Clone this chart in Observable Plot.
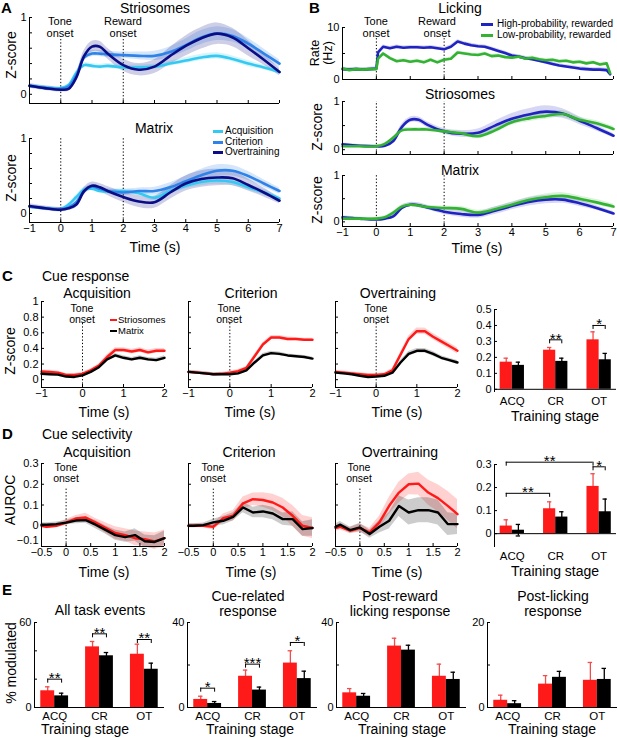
<!DOCTYPE html>
<html><head><meta charset="utf-8">
<script src="https://cdn.jsdelivr.net/npm/d3@7"></script>
<script src="https://cdn.jsdelivr.net/npm/@observablehq/plot@0.6"></script>
<style>
body{margin:0;background:#fff;}
#fig{position:relative;width:617px;height:738px;overflow:hidden;font-family:"Liberation Sans",Arial,Helvetica,sans-serif;color:#000;background:#fff;}
.t{position:absolute;white-space:nowrap;line-height:1.05;text-align:center;}
.sw{position:absolute;}
</style></head><body><div id="fig"></div>
<script>
// ---------------- DATA ----------------
const tAB = [-1,-0.5,0,0.25,0.5,0.75,1,1.25,1.5,2,2.5,3,3.5,4,4.5,5,5.5,6,6.5,7];
// Panel A – Striosomes
const strAcq  = [0.11,0.09,0.08,0.12,0.28,0.38,0.37,0.36,0.37,0.35,0.35,0.36,0.40,0.44,0.48,0.50,0.46,0.40,0.35,0.29];
const strAcqSem = [0.02,0.02,0.02,0.02,0.03,0.03,0.03,0.03,0.03,0.03,0.03,0.03,0.03,0.04,0.04,0.04,0.04,0.04,0.03,0.03];
const strCrit = [0.11,0.08,0.07,0.10,0.25,0.48,0.53,0.53,0.52,0.51,0.50,0.50,0.55,0.64,0.74,0.79,0.76,0.66,0.53,0.40];
const strCritSem = [0.02,0.02,0.02,0.02,0.03,0.04,0.04,0.04,0.04,0.04,0.05,0.06,0.07,0.08,0.09,0.09,0.08,0.07,0.06,0.05];
const strOT   = [0.11,0.08,0.06,0.07,0.22,0.50,0.62,0.62,0.53,0.38,0.32,0.36,0.50,0.63,0.73,0.79,0.74,0.60,0.45,0.29];
const strOTSem = [0.03,0.03,0.03,0.03,0.05,0.07,0.07,0.07,0.07,0.08,0.08,0.09,0.11,0.13,0.14,0.14,0.12,0.10,0.07,0.05];
// Panel A – Matrix
const matAcq  = [0.09,0.07,0.06,0.12,0.22,0.32,0.33,0.30,0.29,0.30,0.27,0.21,0.30,0.37,0.42,0.44,0.42,0.35,0.28,0.20];
const matAcqSem = [0.02,0.02,0.02,0.02,0.03,0.03,0.03,0.03,0.03,0.03,0.03,0.04,0.04,0.04,0.05,0.05,0.05,0.04,0.04,0.03];
const matCrit = [0.09,0.07,0.06,0.08,0.15,0.30,0.36,0.33,0.30,0.28,0.30,0.30,0.35,0.43,0.51,0.57,0.57,0.50,0.40,0.30];
const matCritSem = [0.02,0.02,0.02,0.02,0.03,0.03,0.03,0.03,0.03,0.04,0.04,0.05,0.06,0.07,0.08,0.08,0.07,0.06,0.05,0.04];
const matOT   = [0.10,0.07,0.05,0.07,0.12,0.30,0.37,0.35,0.30,0.22,0.16,0.15,0.28,0.40,0.46,0.48,0.47,0.38,0.28,0.17];
const matOTSem = [0.03,0.03,0.03,0.03,0.04,0.05,0.05,0.05,0.06,0.07,0.08,0.08,0.09,0.10,0.11,0.11,0.10,0.08,0.06,0.04];
// Panel B – Licking
const tLick = [-1,-0.8,-0.6,-0.4,-0.2,0,0.05,0.2,0.4,0.6,0.8,1,1.2,1.4,1.6,1.8,2,2.2,2.4,2.6,2.8,3,3.2,3.4,3.6,3.8,4,4.2,4.4,4.6,4.8,5,5.2,5.4,5.6,5.8,6,6.2,6.4,6.6,6.8,6.9];
const lickHigh = [2.0,1.9,2.0,1.9,2.0,2.1,5.2,6.3,6.0,6.3,6.1,6.2,6.2,6.1,6.2,6.0,5.8,6.3,7.3,6.9,6.6,6.4,6.3,5.9,5.5,5.1,4.6,4.4,4.1,3.9,3.6,3.3,3.0,2.7,2.5,2.3,2.1,2.0,1.9,1.9,1.8,1.0];
const lickLow  = [2.1,1.8,2.0,1.9,2.0,2.0,4.0,5.0,4.1,3.5,3.7,3.4,3.6,3.3,3.8,3.3,3.8,4.0,5.2,5.0,4.8,4.7,5.0,4.5,4.6,4.3,4.2,4.4,4.0,4.2,3.9,3.7,3.8,3.5,3.6,3.3,3.4,3.1,3.3,2.9,3.1,1.2];
const lickHighSem = 0.35, lickLowSem = 0.3;
// Panel B – Striosomes / Matrix
const bStrHigh = [0.11,0.08,0.07,0.08,0.18,0.47,0.62,0.62,0.52,0.38,0.33,0.35,0.50,0.64,0.73,0.79,0.75,0.60,0.45,0.29];
const bStrHighSem = [0.03,0.03,0.03,0.03,0.04,0.06,0.06,0.06,0.06,0.06,0.07,0.08,0.09,0.11,0.12,0.12,0.10,0.08,0.06,0.04];
const bStrLow  = [0.07,0.07,0.07,0.12,0.25,0.40,0.42,0.42,0.42,0.38,0.34,0.28,0.40,0.57,0.65,0.70,0.74,0.62,0.55,0.43];
const bStrLowSem = [0.03,0.03,0.03,0.03,0.03,0.04,0.04,0.04,0.04,0.04,0.04,0.05,0.06,0.06,0.07,0.07,0.07,0.06,0.05,0.05];
const bMatHigh = [0.10,0.07,0.05,0.07,0.12,0.30,0.37,0.36,0.31,0.22,0.17,0.15,0.24,0.34,0.43,0.48,0.48,0.40,0.30,0.18];
const bMatHighSem = [0.03,0.03,0.03,0.03,0.04,0.05,0.05,0.05,0.05,0.06,0.07,0.07,0.08,0.08,0.09,0.09,0.08,0.07,0.05,0.04];
const bMatLow  = [0.07,0.07,0.07,0.10,0.20,0.33,0.37,0.35,0.32,0.30,0.28,0.20,0.27,0.37,0.47,0.53,0.56,0.50,0.42,0.33];
const bMatLowSem = [0.03,0.03,0.03,0.03,0.03,0.04,0.04,0.04,0.04,0.04,0.05,0.05,0.05,0.06,0.06,0.07,0.07,0.06,0.06,0.05];
// Panel C – cue response
const tC = [-1,-0.8,-0.6,-0.4,-0.2,0,0.2,0.4,0.6,0.8,1,1.2,1.4,1.6,1.8,2];
const cAcqStr  = [0.105,0.10,0.09,0.06,0.06,0.075,0.12,0.18,0.29,0.38,0.38,0.36,0.38,0.35,0.37,0.37];
const cAcqStrSem = [0.02,0.02,0.02,0.02,0.02,0.02,0.02,0.02,0.03,0.03,0.03,0.03,0.03,0.03,0.03,0.03];
const cAcqMat  = [0.075,0.07,0.065,0.04,0.035,0.055,0.10,0.16,0.26,0.31,0.28,0.26,0.28,0.26,0.25,0.28];
const cAcqMatSem = [0.02,0.02,0.02,0.02,0.02,0.02,0.02,0.02,0.025,0.025,0.025,0.025,0.025,0.025,0.025,0.025];
const cCritStr = [0.10,0.09,0.08,0.07,0.075,0.09,0.11,0.15,0.30,0.45,0.54,0.54,0.52,0.52,0.51,0.51];
const cCritStrSem = [0.02,0.02,0.02,0.02,0.02,0.02,0.02,0.02,0.025,0.025,0.025,0.025,0.025,0.02,0.02,0.02];
const cCritMat = [0.10,0.09,0.08,0.07,0.07,0.07,0.08,0.12,0.22,0.31,0.34,0.33,0.31,0.30,0.29,0.27];
const cCritMatSem = [0.02,0.02,0.02,0.02,0.02,0.02,0.02,0.02,0.02,0.025,0.025,0.025,0.02,0.02,0.02,0.02];
const cOTStr   = [0.10,0.09,0.08,0.07,0.06,0.06,0.07,0.12,0.32,0.52,0.62,0.62,0.55,0.49,0.43,0.37];
const cOTStrSem = [0.02,0.02,0.02,0.02,0.02,0.02,0.02,0.025,0.03,0.04,0.04,0.04,0.04,0.04,0.04,0.04];
const cOTMat   = [0.09,0.08,0.07,0.05,0.035,0.04,0.05,0.09,0.22,0.33,0.37,0.37,0.33,0.28,0.25,0.22];
const cOTMatSem = [0.02,0.02,0.02,0.02,0.02,0.02,0.02,0.02,0.025,0.03,0.03,0.03,0.03,0.025,0.025,0.025];
// Panel D – cue selectivity
const tD = [-0.5,-0.4,-0.2,0,0.2,0.4,0.6,0.8,1,1.2,1.4,1.6,1.8,2];
const dAcqStr  = [0.0,-0.005,0.0,0.015,0.035,0.04,0.015,-0.01,-0.035,-0.045,-0.06,-0.065,-0.075,-0.06];
const dAcqStrSem = [0.01,0.01,0.01,0.015,0.015,0.02,0.02,0.025,0.03,0.03,0.035,0.035,0.04,0.04];
const dAcqMat  = [0.005,0.005,0.008,0.015,0.025,0.027,0.005,-0.02,-0.045,-0.055,-0.045,-0.075,-0.078,-0.06];
const dAcqMatSem = [0.01,0.01,0.01,0.01,0.015,0.015,0.02,0.02,0.025,0.025,0.03,0.03,0.03,0.035];
const dCritStr = [0.0,0.0,0.0,-0.005,0.037,0.048,0.108,0.128,0.124,0.112,0.088,0.048,0.0,-0.011];
const dCritStrSem = [0.01,0.01,0.01,0.015,0.02,0.025,0.03,0.03,0.035,0.04,0.045,0.05,0.05,0.05];
const dCritMat = [0.0,0.0,0.003,0.016,0.024,0.043,0.088,0.064,0.069,0.059,0.032,0.032,-0.016,-0.011];
const dCritMatSem = [0.01,0.01,0.01,0.015,0.02,0.02,0.025,0.025,0.03,0.03,0.03,0.035,0.035,0.04];
const dOTStr   = [-0.011,-0.005,-0.024,-0.011,-0.032,0.016,0.096,0.16,0.20,0.203,0.16,0.133,0.096,0.056];
const dOTStrSem = [0.015,0.015,0.015,0.02,0.02,0.03,0.04,0.05,0.05,0.055,0.06,0.065,0.07,0.07];
const dOTMat   = [-0.005,0.005,-0.021,-0.008,-0.04,-0.005,0.024,0.095,0.064,0.075,0.075,0.064,0.008,0.008];
const dOTMatSem = [0.015,0.015,0.015,0.02,0.02,0.03,0.04,0.05,0.06,0.06,0.06,0.06,0.055,0.05];
// Bar charts
const stages = ["ACQ","CR","OT"];
const cBarStr = [0.17,0.245,0.31],   cBarStrErr = [0.025,0.017,0.05];
const cBarMat = [0.15,0.175,0.185],  cBarMatErr = [0.02,0.02,0.04];
const cBarSig = [{s:1,a:0,b:1,y:0.31,label:"**"},{s:2,a:0,b:1,y:0.40,label:"*"}];
const dBarStr = [0.033,0.108,0.205], dBarStrErr = [0.027,0.03,0.055];
const dBarMat = [0.015,0.072,0.095], dBarMatErr = [0.025,0.023,0.055];
const dBarSig = [{s:0,a:0,s2:1,b:0,y:0.175,label:"**"},{s:0,a:0,s2:2,b:0,y:0.31,label:"**"},{s:2,a:0,b:1,y:0.29,label:"*"}];
const e1Str = [11.8,42.8,37.6], e1StrErr = [2.8,3.8,7.1];
const e1Mat = [8.2,36.5,27.0],  e1MatErr = [1.9,2.3,4.3];
const e1Sig = [{s:0,a:0,b:1,y:20,label:"**"},{s:1,a:0,b:1,y:52,label:"**"},{s:2,a:0,b:1,y:48,label:"**"}];
const e2Str = [3.8,14.7,20.9],  e2StrErr = [1.5,2.9,5.8];
const e2Mat = [1.9,8.2,13.6],   e2MatErr = [0.9,1.4,3.5];
const e2Sig = [{s:0,a:0,b:1,y:9.1,label:"*"},{s:1,a:0,b:1,y:20.4,label:"***"},{s:2,a:0,b:1,y:30.6,label:"*"}];
const e3Str = [6.9,28.9,14.7],  e3StrErr = [2.0,3.7,5.7];
const e3Mat = [5.3,27.0,13.2],  e3MatErr = [1.3,2.3,3.4];
const e4Str = [1.7,5.5,6.4],    e4StrErr = [1.2,2.0,4.2];
const e4Mat = [0.9,7.1,6.6],    e4MatErr = [0.7,1.4,2.6];

// ---------------- STYLE ----------------
const FONT = '"Liberation Sans", Arial, Helvetica, sans-serif';
const cAcqC = "#35c9f2", cCritC = "#2f83e8", cOTC = "#0b0d86";
const cHigh = "#1f24c0", cLow = "#33b233";
const RED = "#ff1a1a", BLK = "#000000";
const fig = document.getElementById("fig");
const fmt = d => d < 0 ? "\u2212" + Math.abs(d) : String(d);

function place(box, opts, marks) {
  const ml = 34, mr = 8, mt = 8, mb = 20;
  const svg = Plot.plot({
    width: box.x1 - box.x0 + ml + mr,
    height: box.y1 - box.y0 + mt + mb,
    marginLeft: ml, marginRight: mr, marginTop: mt, marginBottom: mb,
    style: {fontFamily: FONT, fontSize: "11px", background: "transparent", overflow: "visible", maxWidth: "none", color: "#000"},
    ...opts, marks
  });
  svg.style.position = "absolute";
  svg.style.left = (box.x0 - ml) + "px";
  svg.style.top = (box.y0 - mt) + "px";
  fig.appendChild(svg);
}
function txt(s, x, y, o = {}) {
  const d = document.createElement("div");
  d.className = "t";
  d.innerHTML = s;
  d.style.fontSize = (o.size || 14) + "px";
  d.style.left = x + "px"; d.style.top = y + "px";
  if (o.bold) d.style.fontWeight = "bold";
  if (o.lh) d.style.lineHeight = o.lh;
  const ax = o.anchor === "start" ? "0" : o.anchor === "end" ? "-100%" : "-50%";
  if (o.anchor === "start") d.style.textAlign = "left";
  d.style.transform = `translate(${ax},-50%)` + (o.rotate ? ` rotate(${o.rotate}deg)` : "");
  fig.appendChild(d);
}
function swatch(x0, x1, y, color, h = 3) {
  const d = document.createElement("div");
  d.className = "sw";
  Object.assign(d.style, {left: x0 + "px", top: (y - h / 2) + "px", width: (x1 - x0) + "px", height: h + "px", background: color});
  fig.appendChild(d);
}
const rows = (t, v, s) => t.map((x, i) => ({t: x, v: v[i], s: Array.isArray(s) ? s[i] : s}));

function linePanel(box, xdom, ydom, series, cfg) {
  const curve = cfg.curve || "linear";
  const marks = [];
  for (const S of series) {
    marks.push(Plot.areaY(rows(S.t, S.v, S.s), {x: "t", y1: d => d.v - d.s, y2: d => d.v + d.s, fill: S.color, fillOpacity: cfg.bandOpacity || 0.22, curve}));
  }
  if (cfg.events) marks.push(Plot.ruleX(cfg.events, {x: d => d, y1: ydom[0], y2: cfg.evTop, stroke: "#000", strokeWidth: 1, strokeDasharray: "1.3,2"}));
  for (const S of series) {
    marks.push(Plot.lineY(rows(S.t, S.v, S.s), {x: "t", y: "v", stroke: S.color, strokeWidth: cfg.sw || 2.6, curve}));
  }
  marks.push(Plot.ruleX([xdom[0]], {stroke: "#000", strokeWidth: 1}));
  marks.push(Plot.ruleY([ydom[0]], {stroke: "#000", strokeWidth: 1}));
  marks.push(Plot.axisY({ticks: cfg.yticks, tickSize: -3, tickPadding: 6, label: null,
    tickFormat: d => cfg.ylabels && cfg.ylabels.includes(d) ? fmt(d) : ""}));
  if (cfg.raisedY) marks.push(Plot.axisY({ticks: cfg.raisedY, tickSize: 0, tickPadding: 3, dy: -6, label: null, tickFormat: fmt}));
  marks.push(Plot.axisX({ticks: cfg.xticks, tickSize: -3, tickPadding: 5, label: null,
    tickFormat: d => cfg.xlabels ? fmt(d) : ""}));
  place(box, {x: {domain: xdom}, y: {domain: ydom}}, marks);
}

function barPanel(box, xdom, ydom, str, strErr, mat, matErr, sig, cfg) {
  const W = cfg.W, cap = cfg.cap;
  const kpx = (ydom[1] - ydom[0]) / (box.y1 - box.y0);
  const data = [];
  stages.forEach((st, i) => {
    data.push({i, c: i - W / 2, x1: i - W, x2: i, v: str[i], e: strErr[i], fill: RED, err: "#f24d4d"});
    data.push({i, c: i + W / 2, x1: i, x2: i + W, v: mat[i], e: matErr[i], fill: BLK, err: "#000"});
  });
  const pos = (s, k) => s + (k === 0 ? -W / 2 : W / 2);
  const br = (sig || []).map(g => ({x1: pos(g.s, g.a), x2: pos(g.s2 !== undefined ? g.s2 : g.s, g.b), y: g.y, label: g.label}));
  const marks = [
    Plot.ruleX(data, {x: "c", y1: d => d.v - d.e, y2: d => d.v + d.e, stroke: "err", strokeWidth: 1.3}),
    Plot.ruleY(data, {y: d => d.v + d.e, x1: d => d.c - cap, x2: d => d.c + cap, stroke: "err", strokeWidth: 1.3}),
    Plot.ruleY(data, {y: d => d.v - d.e, x1: d => d.c - cap, x2: d => d.c + cap, stroke: "err", strokeWidth: 1.3}),
    Plot.rectY(data, {x1: "x1", x2: "x2", y1: 0, y2: "v", fill: "fill"}),
    Plot.ruleY(br, {y: "y", x1: "x1", x2: "x2", stroke: "#000", strokeWidth: 1}),
    Plot.ruleX(br, {x: "x1", y1: "y", y2: d => d.y - 4 * kpx, stroke: "#000", strokeWidth: 1}),
    Plot.ruleX(br, {x: "x2", y1: "y", y2: d => d.y - 4 * kpx, stroke: "#000", strokeWidth: 1}),
    Plot.text(br, {x: d => (d.x1 + d.x2) / 2, y: "y", text: "label", fontSize: 15, dy: -1, fill: "#000"}),
    Plot.ruleX([xdom[0]], {stroke: "#000", strokeWidth: 1}),
    Plot.ruleY([cfg.baseline], {stroke: "#000", strokeWidth: 1}),
    Plot.axisY({ticks: cfg.yticks, tickSize: -3, tickPadding: 6, label: null,
      tickFormat: d => cfg.ylabels.includes(d) ? fmt(d) : ""}),
    Plot.axisX({ticks: [0, 1, 2], tickSize: 0, tickPadding: 4, label: null, fontSize: 11.5, tickFormat: i => stages[i]})
  ];
  place(box, {x: {domain: xdom}, y: {domain: ydom}, color: {type: "identity"}}, marks);
}

// ---------------- PANEL A ----------------
const aX = [-1,0,1,2,3,4,5,6,7], zT = [0,0.2,0.4,0.6,0.8,1];
linePanel({x0: 29, x1: 279, y0: 17, y1: 103}, [-1, 7], [-0.12, 1], [
  {t: tAB, v: strAcq, s: strAcqSem, color: cAcqC},
  {t: tAB, v: strCrit, s: strCritSem, color: cCritC},
  {t: tAB, v: strOT, s: strOTSem, color: cOTC}
], {curve: "catmull-rom", xticks: aX, xlabels: false, yticks: zT, ylabels: [0, 1], events: [0, 2], evTop: 0.74, bandOpacity: 0.2});
linePanel({x0: 29, x1: 279, y0: 138, y1: 222}, [-1, 7], [-0.12, 1], [
  {t: tAB, v: matAcq, s: matAcqSem, color: cAcqC},
  {t: tAB, v: matCrit, s: matCritSem, color: cCritC},
  {t: tAB, v: matOT, s: matOTSem, color: cOTC}
], {curve: "catmull-rom", xticks: aX, xlabels: true, yticks: zT, ylabels: [0, 1], events: [0, 2], evTop: 1, bandOpacity: 0.2});

// ---------------- PANEL B ----------------
linePanel({x0: 342, x1: 613, y0: 27, y1: 79}, [-1, 7], [0, 10], [
  {t: tLick, v: lickHigh, s: lickHighSem, color: cHigh},
  {t: tLick, v: lickLow, s: lickLowSem, color: cLow}
], {xticks: aX, xlabels: false, yticks: [0, 5, 10], ylabels: [0, 10], events: [0, 2], evTop: 8.1, sw: 2.6, bandOpacity: 0.2});
linePanel({x0: 342, x1: 613, y0: 101, y1: 154}, [-1, 7], [-0.1, 1], [
  {t: tAB, v: bStrHigh, s: bStrHighSem, color: cHigh},
  {t: tAB, v: bStrLow, s: bStrLowSem, color: cLow}
], {curve: "catmull-rom", xticks: aX, xlabels: false, yticks: [0, 0.5, 1], ylabels: [0, 1], events: [0, 2], evTop: 1, bandOpacity: 0.18});
linePanel({x0: 342, x1: 613, y0: 175, y1: 226}, [-1, 7], [-0.1, 1], [
  {t: tAB, v: bMatHigh, s: bMatHighSem, color: cHigh},
  {t: tAB, v: bMatLow, s: bMatLowSem, color: cLow}
], {curve: "catmull-rom", xticks: aX, xlabels: true, yticks: [0, 0.5, 1], ylabels: [0, 1], events: [0, 2], evTop: 1, bandOpacity: 0.18});

// ---------------- PANEL C ----------------
const cX = [-1, 0, 1, 2], cY = [0, 0.2, 0.4, 0.6, 0.8, 1];
const cBoxes = [[41, 164], [188, 312], [335, 457]];
const cSeries = [[cAcqStr, cAcqStrSem, cAcqMat, cAcqMatSem], [cCritStr, cCritStrSem, cCritMat, cCritMatSem], [cOTStr, cOTStrSem, cOTMat, cOTMatSem]];
cSeries.forEach((S, k) => {
  linePanel({x0: cBoxes[k][0], x1: cBoxes[k][1], y0: 301, y1: 387}, [-1, 2], [-0.1, 1], [
    {t: tC, v: S[0], s: S[1], color: RED},
    {t: tC, v: S[2], s: S[3], color: BLK}
  ], {xticks: cX, xlabels: true, yticks: cY, ylabels: k === 0 ? [0, 0.2, 0.4, 0.6, 0.8, 1] : [], events: [0], evTop: 0.72, sw: 2.4, bandOpacity: 0.2});
});
barPanel({x0: 494, x1: 616, y0: 309, y1: 392}, [-0.41, 2.4], [-0.02, 0.5], cBarStr, cBarStrErr, cBarMat, cBarMatErr, cBarSig,
  {W: 0.28, cap: 0.05, baseline: 0, yticks: [0, 0.1, 0.2, 0.3, 0.4, 0.5], ylabels: [0, 0.1, 0.2, 0.3, 0.4, 0.5]});

// ---------------- PANEL D ----------------
const dX = [-0.5, 0, 0.5, 1, 1.5, 2], dY = [-0.1, 0, 0.1, 0.2, 0.3];
const dSeries = [[dAcqStr, dAcqStrSem, dAcqMat, dAcqMatSem], [dCritStr, dCritStrSem, dCritMat, dCritMatSem], [dOTStr, dOTStrSem, dOTMat, dOTMatSem]];
dSeries.forEach((S, k) => {
  linePanel({x0: cBoxes[k][0], x1: cBoxes[k][1], y0: 463, y1: 546}, [-0.5, 2], [-0.1, 0.3], [
    {t: tD, v: S[0], s: S[1], color: RED},
    {t: tD, v: S[2], s: S[3], color: BLK}
  ], {xticks: dX, xlabels: true, yticks: dY, ylabels: k === 0 ? [0, 0.1, 0.2, 0.3] : [], raisedY: k === 0 ? [-0.1] : null,
      events: [0], evTop: 0.18, sw: 2.4, bandOpacity: 0.2});
});
barPanel({x0: 494, x1: 616, y0: 464, y1: 547}, [-0.41, 2.4], [-0.06, 0.3], dBarStr, dBarStrErr, dBarMat, dBarMatErr, dBarSig,
  {W: 0.28, cap: 0.05, baseline: 0, yticks: [0, 0.1, 0.2, 0.3], ylabels: [0, 0.1, 0.2, 0.3]});

// ---------------- PANEL E ----------------
const eX0 = [34, 187, 336, 487];
const eDefs = [
  [e1Str, e1StrErr, e1Mat, e1MatErr, e1Sig, 60, [0, 20, 40, 60]],
  [e2Str, e2StrErr, e2Mat, e2MatErr, e2Sig, 40, [0, 20, 40]],
  [e3Str, e3StrErr, e3Mat, e3MatErr, [], 40, [0, 20, 40]],
  [e4Str, e4StrErr, e4Mat, e4MatErr, [], 20, [0, 10, 20]]
];
eDefs.forEach((E, k) => {
  barPanel({x0: eX0[k], x1: eX0[k] + 130, y0: 622, y1: 707}, [-0.45, 2.45], [0, E[5]], E[0], E[1], E[2], E[3], E[4],
    {W: 0.31, cap: 0.05, baseline: 0, yticks: E[6], ylabels: [0, E[5]]});
});

// ---------------- TEXT ----------------
// panel letters
txt("A", 1, 8, {size: 15, bold: true, anchor: "start"});
txt("B", 309, 8, {size: 15, bold: true, anchor: "start"});
txt("C", 2, 276, {size: 15, bold: true, anchor: "start"});
txt("D", 2, 434, {size: 15, bold: true, anchor: "start"});
txt("E", 2, 590, {size: 15, bold: true, anchor: "start"});
// A
txt("Striosomes", 155, 8);
txt("Matrix", 154, 128);
txt("Z-score", 11, 55, {rotate: -90});
txt("Z-score", 11, 178, {rotate: -90});
txt("Time (s)", 155, 247);
txt("Tone<br>onset", 60, 27, {size: 11, lh: "11.5px"});
txt("Reward<br>onset", 123, 27, {size: 11, lh: "11.5px"});
const legA = [["Acquisition", cAcqC, 131], ["Criterion", cCritC, 142], ["Overtraining", cOTC, 152]];
legA.forEach(([s, c, y]) => { swatch(213, 223, y, c, 3); txt(s, 225, y, {size: 10, anchor: "start"}); });
// B
txt("Licking", 460, 8);
txt("Striosomes", 460, 94);
txt("Matrix", 460, 170);
txt("Rate<br>(Hz)", 322, 53, {rotate: -90, lh: "13px", size: 12.5});
txt("Z-score", 317, 127, {rotate: -90});
txt("Z-score", 317, 200, {rotate: -90});
txt("Time (s)", 477, 248);
txt("Tone<br>onset", 376, 27, {size: 11, lh: "11.5px"});
txt("Reward<br>onset", 437, 27, {size: 11, lh: "11.5px"});
const legB = [["High-probability, rewarded", cHigh, 24], ["Low-probability, rewarded", cLow, 35]];
legB.forEach(([s, c, y]) => { swatch(481, 493, y, c, 3); txt(s, 497, y, {size: 10, anchor: "start"}); });
// C
txt("Cue response", 42, 276, {anchor: "start"});
txt("Acquisition", 97, 293); txt("Criterion", 251, 293); txt("Overtraining", 398, 293);
txt("Z-score", 10, 351, {rotate: -90});
txt("Time (s)", 104, 412); txt("Time (s)", 250, 412); txt("Time (s)", 397, 412);
[82, 229, 376].forEach(x => txt("Tone<br>onset", x, 314, {size: 10.5, lh: "11px"}));
swatch(110, 117, 320, RED, 2.5); txt("Striosomes", 118, 320, {size: 9.5, anchor: "start"});
swatch(110, 117, 331, BLK, 2.5); txt("Matrix", 118, 331, {size: 9.5, anchor: "start"});
txt("Training stage", 555, 416);
// D
txt("Cue selectivity", 42, 434, {anchor: "start"});
txt("Acquisition", 97, 452); txt("Criterion", 249, 452); txt("Overtraining", 400, 452);
txt("AUROC", 10, 500, {rotate: -90});
txt("Time (s)", 104, 572); txt("Time (s)", 251, 572); txt("Time (s)", 397, 572);
[66, 213, 359].forEach(x => txt("Tone<br>onset", x, 473, {size: 10.5, lh: "11px"}));
txt("Training stage", 555, 571);
// E
txt("All task events", 100, 610);
txt("Cue-related<br>response", 248, 604, {lh: "15px"});
txt("Post-reward<br>licking response", 400, 604, {lh: "15px"});
txt("Post-licking<br>response", 553, 604, {lh: "15px"});
txt("% modulated", 11, 663, {rotate: -90});
[85, 250, 402, 552].forEach(x => txt("Training stage", x, 729));
</script></body></html>
